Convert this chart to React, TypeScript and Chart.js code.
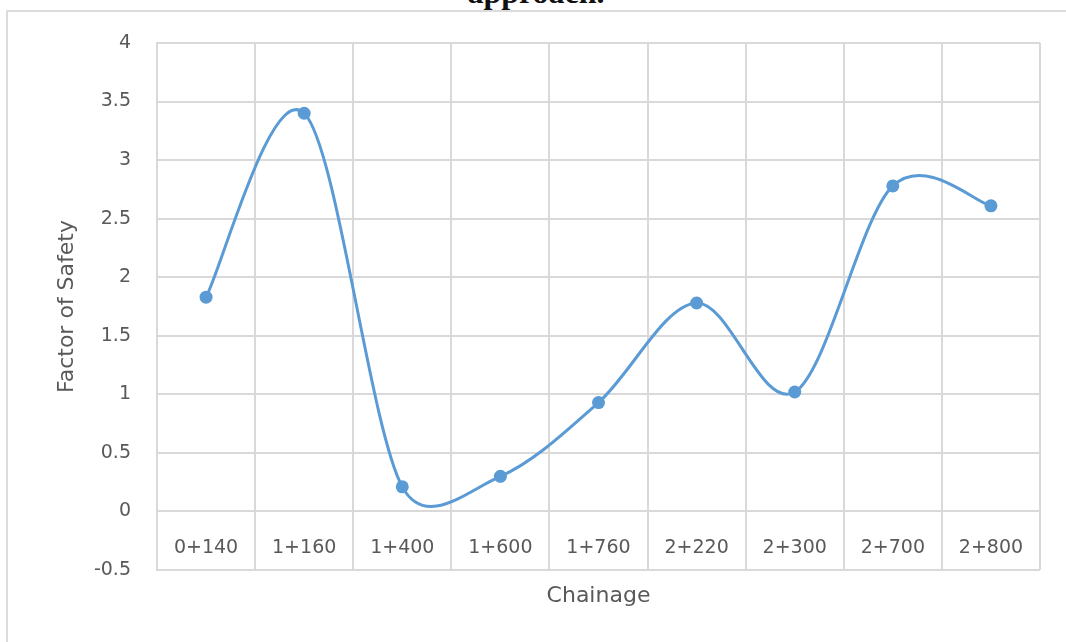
import React, { useEffect, useRef } from "react";
import { Chart, registerables } from "chart.js";

Chart.register(...registerables);

// Chainage stations and the factor of safety computed at each one
const categories = ["0+140", "1+160", "1+400", "1+600", "1+760", "2+220", "2+300", "2+700", "2+800"];
const factorOfSafety = [1.83, 3.4, 0.21, 0.3, 0.93, 1.78, 1.02, 2.78, 2.61];

// Value axis range
const yMin = -0.5;
const yMax = 4;
const yStep = 0.5;
// The category labels sit just under this value line
const xAxisAt = 0;

const captionTail = "approach.";
const xTitle = "Chainage";
const yTitle = "Factor of Safety";

const W = 1066;
const H = 642;

const LINE_BLUE = "#5B9BD5";
const GRID = "#D9D9D9";
const TEXT = "#595959";
const FONT = "'DejaVu Sans', 'Open Sans', sans-serif";

// Smoothed line in the spreadsheet style: Catmull-Rom tangents of one sixth of
// the neighbour-to-neighbour span, each handle limited to half of its segment.
const SMOOTH = 1 / 6;
const uniformSpline = {
  id: "uniformSpline",
  beforeDatasetsDraw(chart: any) {
    chart.getSortedVisibleDatasetMetas().forEach((meta: any) => {
      const pts = meta.data;
      if (!pts || pts.length < 2) return;
      pts.forEach((p: any, i: number) => {
        const prev = pts[i - 1] || p;
        const next = pts[i + 1] || p;
        const tx = (next.x - prev.x) * SMOOTH;
        const ty = (next.y - prev.y) * SMOOTH;
        const tLen = Math.hypot(tx, ty) || 1;
        const dPrev = Math.hypot(p.x - prev.x, p.y - prev.y);
        const dNext = Math.hypot(next.x - p.x, next.y - p.y);
        const kBack = dPrev > 0 ? Math.min(1, (0.5 * dPrev) / tLen) : 1;
        const kFwd = dNext > 0 ? Math.min(1, (0.5 * dNext) / tLen) : 1;
        p.cp1x = p.x - tx * kBack;
        p.cp1y = p.y - ty * kBack;
        p.cp2x = p.x + tx * kFwd;
        p.cp2y = p.y + ty * kFwd;
      });
      if (meta.dataset) meta.dataset._pointsUpdated = true;
    });
  },
};

export default function App() {
  const canvasRef = useRef<HTMLCanvasElement | null>(null);

  useEffect(() => {
    const canvas = canvasRef.current;
    if (!canvas) return;
    const chart = new Chart(canvas, {
      type: "line",
      data: {
        labels: categories,
        datasets: [
          {
            label: yTitle,
            data: factorOfSafety,
            borderColor: LINE_BLUE,
            backgroundColor: LINE_BLUE,
            borderWidth: 3,
            tension: 0.4,
            pointRadius: 6.5,
            pointBorderWidth: 0,
            pointBackgroundColor: LINE_BLUE,
            fill: false,
          },
        ],
      },
      options: {
        responsive: false,
        animation: false,
        devicePixelRatio: 1,
        layout: { padding: { left: 0, right: 26, top: 43, bottom: 72 } },
        plugins: {
          legend: { display: false },
          tooltip: { enabled: false },
          title: { display: false },
        },
        scales: {
          x: {
            type: "category",
            position: { y: xAxisAt },
            offset: true,
            grid: {
              offset: true,
              color: GRID,
              lineWidth: 2,
              drawTicks: false,
            },
            border: { color: GRID, width: 2 },
            ticks: {
              color: TEXT,
              font: { family: FONT, size: 19 },
              padding: 25,
              maxRotation: 0,
              autoSkip: false,
            },
            title: {
              display: true,
              text: xTitle,
              color: TEXT,
              font: { family: FONT, size: 22 },
              padding: { top: 0, bottom: 0 },
            },
            afterFit: (scale: any) => {
              scale.height = 98;
            },
          },
          y: {
            min: yMin,
            max: yMax,
            grid: {
              color: GRID,
              lineWidth: 2,
              drawTicks: false,
            },
            border: { color: GRID, width: 2 },
            ticks: {
              stepSize: yStep,
              color: TEXT,
              font: { family: FONT, size: 19 },
              padding: 26,
              callback: (v: any) => String(v),
            },
            title: {
              display: true,
              text: yTitle,
              color: TEXT,
              font: { family: FONT, size: 22 },
              padding: { top: 54, bottom: 0 },
            },
            afterFit: (scale: any) => {
              scale.width = 157;
            },
          },
        },
      },
      plugins: [uniformSpline],
    });
    return () => chart.destroy();
  }, []);

  return (
    <div
      style={{
        position: "fixed",
        left: 0,
        top: 0,
        width: W,
        height: H,
        overflow: "hidden",
        background: "#ffffff",
      }}
    >
      <div
        style={{
          position: "absolute",
          left: 6,
          top: 10,
          width: 1200,
          height: 800,
          border: "2px solid #DCDCDC",
          boxSizing: "border-box",
        }}
      />
      <div
        style={{
          position: "absolute",
          left: 0,
          right: 0,
          top: -24,
          textAlign: "center",
          paddingLeft: 6,
          fontFamily: "'Liberation Serif', 'Times New Roman', serif",
          fontWeight: "bold",
          fontSize: 32,
          lineHeight: "32px",
          color: "#111111",
          whiteSpace: "nowrap",
        }}
      >
        {captionTail}
      </div>
      <canvas
        ref={canvasRef}
        width={W}
        height={H}
        style={{ position: "absolute", left: 0, top: 0, width: W, height: H }}
      />
    </div>
  );
}
